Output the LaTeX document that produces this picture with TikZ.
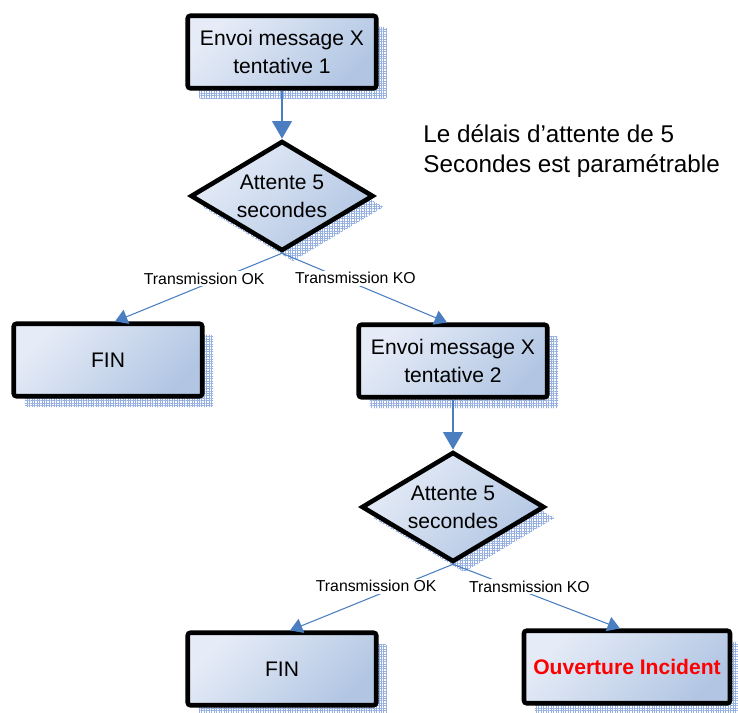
\documentclass[tikz,border=0pt]{standalone}
\usepackage{fontspec}
\setmainfont{Liberation Sans}
\usetikzlibrary{positioning, arrows.meta, shapes.geometric, shadows, patterns.meta}
\definecolor{lnblue}{RGB}{74,126,193}
\definecolor{boxa}{RGB}{230,236,247}
\definecolor{boxb}{RGB}{178,198,227}
\definecolor{shadc}{RGB}{150,176,226}

\begin{document}
\begin{tikzpicture}[x=0.02cm, y=-0.02cm,
  shad/.style={general shadow={shadow xshift=.22cm, shadow yshift=-.22cm, pattern={Hatch[distance=1.4pt, line width=.3pt]}, pattern color=shadc}},
  box/.style={draw=black, line width=2.6pt, rounded corners=1.5pt, top color=boxa, bottom color=boxb, shading angle=45, minimum width=3.77cm, minimum height=1.45cm, align=center, font=\fontsize{12}{16}\selectfont, shad},
  dia/.style={diamond, draw=black, line width=2.6pt, aspect=1.66, minimum width=3.66cm, minimum height=2.2cm, inner sep=0pt, top color=boxa, bottom color=boxb, shading angle=45, align=center, font=\fontsize{12}{16}\selectfont, shad},
  thk/.style={draw=lnblue, line width=1.7pt, -{Triangle[width=11pt, length=10pt]}},
  thn/.style={draw=lnblue, line width=.6pt, -{Triangle[width=8.5pt, length=7pt]}},
  lbl/.style={fill=white, inner sep=1pt, font=\fontsize{9}{10}\selectfont}]
  \useasboundingbox (0,0) rectangle (738,713);

  \node[box] (env1) at (282,52) {Envoi message X\\tentative 1};
  \node[dia] (att1) at (282,196) {Attente 5\\secondes};
  \node[box] (fin1) at (108,360) {FIN};
  \node[box] (env2) at (453,361) {Envoi message X\\tentative 2};
  \node[dia] (att2) at (453,507) {Attente 5\\secondes};
  \node[box] (fin2) at (282,669) {FIN};
  \node[box, minimum width=4.12cm, text=red, font={\fontsize{12}{16}\selectfont\bfseries}] (inc) at (627,667) {Ouverture Incident};

  \node[anchor=north west, align=left, inner sep=0pt, font=\fontsize{13.8}{17}\selectfont] (note) at (423,124) {Le délais d’attente de 5\\Secondes est paramétrable};

  \draw[thk] (env1.south) -- (att1.north);
  \draw[thk] (env2.south) -- (att2.north);

  \draw[thn] (att1.south) -- node[lbl, pos=.37, xshift=-.32cm] {Transmission OK} ([xshift=.14cm]fin1.north);
  \draw[thn] (att1.south) -- node[lbl, pos=.36, xshift=.28cm] {Transmission KO} ([xshift=-.12cm]env2.north);
  \draw[thn] (att2.south) -- node[lbl, pos=.33, xshift=-.46cm] {Transmission OK} ([xshift=.16cm]fin2.north);
  \draw[thn] (att2.south) -- node[lbl, pos=.35, xshift=.36cm] {Transmission KO} ([xshift=-.14cm]inc.north);
\end{tikzpicture}
\end{document}
